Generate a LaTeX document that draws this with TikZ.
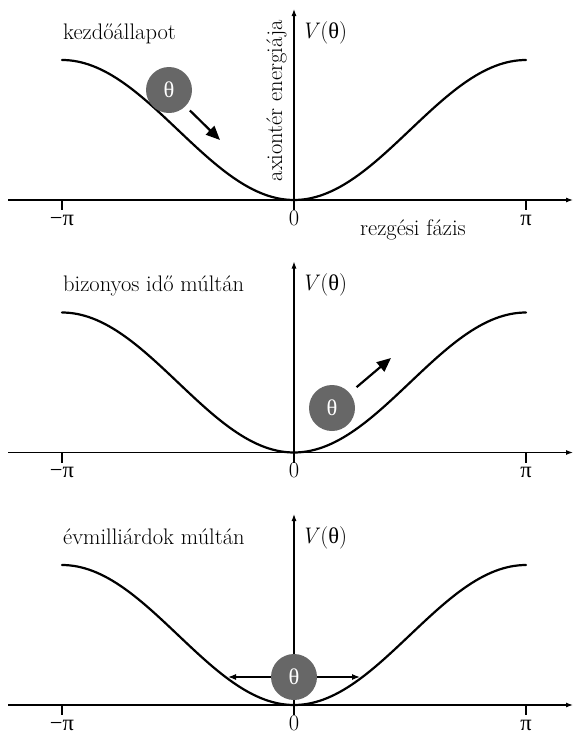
\documentclass[tikz,border=0pt]{standalone}
\usepackage{fontspec}
\usepackage{tikz}
\usepackage{xcolor}
\usetikzlibrary{arrows.meta,positioning}
\newfontfamily\gr{Liberation Serif}
\definecolor{ballgray}{HTML}{676767}

\begin{document}
\begin{tikzpicture}[
  x=1pt, y=-1pt,
  font=\fontsize{22.5}{26}\selectfont,
  axis/.style={line width=1.1pt, -{Latex[length=7pt,width=5pt]}},
  tick/.style={line width=1.1pt},
  curve/.style={line width=2.2pt, line cap=round},
  ball/.style={circle, fill=ballgray, text=white, minimum size=46pt, inner sep=0pt},
  push/.style={line width=2.2pt, -{Triangle[length=14pt,width=12pt]}},
  spread/.style={line width=1.2pt, -{Latex[length=8pt,width=6pt]}},
  lbl/.style={inner sep=0pt}
]
\useasboundingbox (0,0) rectangle (574,734);

% three panels: axes, ticks, potential
\foreach \p/\y/\txt in {1/200/kezdőállapot, 2/452.5/bizonyos idő múltán, 3/705/évmilliárdok múltán}{
  \draw[axis] (8,\y) -- (573,\y);
  \draw[axis] (294,{\y+10}) -- (294,{\y-191});
  \draw[tick] (62,\y) -- (62,{\y+10});
  \draw[tick] (526,\y) -- (526,{\y+10});
  \draw[curve] plot[domain=62:526, samples=120] (\x,{\y-70*(1-cos((\x-294)/232*180))});
  \node[lbl, anchor=base west] (title\p) at (63,{\y-161}) {\txt};
  \node[lbl, anchor=base west] (pot\p) at (301,{\y-162}) {\textit{V}({\gr θ})};
  \node[lbl, anchor=base] (mpi\p) at (62,{\y+25}) {{\gr −π}};
  \node[lbl, anchor=base] (zero\p) at (294,{\y+25}) {0};
  \node[lbl, anchor=base] (ppi\p) at (526,{\y+25}) {{\gr π}};
}

% axis names
\node[lbl, rotate=90, anchor=base east] (energy) at (282,20) {axiontér energiája};
\node[lbl, anchor=base west] (phase) at (360,235) {rezgési fázis};

% balls
\node[ball] (b1) at (169,90) {\gr θ};
\coordinate (e1) at (220,140);
\draw[push, shorten <=6pt] (b1) -- (e1);

\node[ball] (b2) at (332,408) {\gr θ};
\coordinate (e2) at (391,358);
\draw[push, shorten <=9pt] (b2) -- (e2);

\node[ball] (b3) at (294,677) {\gr θ};
\coordinate (l3) at (228,677);
\coordinate (r3) at (360,677);
\draw[spread] (b3) -- (l3);
\draw[spread] (b3) -- (r3);
\end{tikzpicture}
\end{document}
